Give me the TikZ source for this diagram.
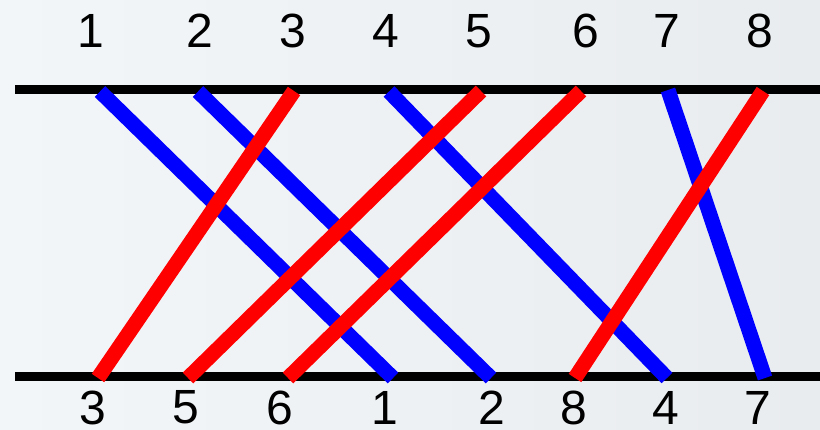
\documentclass[tikz,border=0pt]{standalone}
\usepackage{fontspec}
\setmainfont{Liberation Sans}
\definecolor{bgL}{RGB}{243,246,249}
\definecolor{bgR}{RGB}{233,236,239}
\definecolor{pblue}{RGB}{0,0,255}
\definecolor{pred}{RGB}{255,0,0}
\begin{document}
\begin{tikzpicture}[x=1pt,y=-1pt,
  num/.style={inner sep=0pt,font=\fontsize{48}{48}\selectfont},
  rail/.style={line width=9pt,black},
  bwire/.style={line width=15pt,pblue},
  rwire/.style={line width=15pt,pred}]
\shade[left color=bgL,right color=bgR] (0,0) rectangle (820,429);
\useasboundingbox (0,0) rectangle (820,429);
% rails
\coordinate (tl) at (15,89.5);
\coordinate (tr) at (820,89.5);
\coordinate (bl) at (15,376.5);
\coordinate (br) at (820,376.5);
\draw[rail] (tl) -- (tr);
\draw[rail] (bl) -- (br);
% top labels
\node[num] (u1) at (91,31) {1};
\node[num] (u2) at (200,31) {2};
\node[num] (u3) at (293,31) {3};
\node[num] (u4) at (386,31) {4};
\node[num] (u5) at (479,31) {5};
\node[num] (u6) at (586,31) {6};
\node[num] (u7) at (667,31) {7};
\node[num] (u8) at (760,31) {8};
% bottom labels
\node[num] (d3) at (93,407.5) {3};
\node[num] (d5) at (186,407.5) {5};
\node[num] (d6) at (280,407.5) {6};
\node[num] (d1) at (385,407.5) {1};
\node[num] (d2) at (492,407.5) {2};
\node[num] (d8) at (574,407.5) {8};
\node[num] (d4) at (666,407.5) {4};
\node[num] (d7) at (758,407.5) {7};
% wire ends
\coordinate (t1) at (100,91.5);
\coordinate (t2) at (198,91.5);
\coordinate (t3) at (294,91);
\coordinate (t4) at (389,91.5);
\coordinate (t5) at (481,91);
\coordinate (t6) at (581,91);
\coordinate (t7) at (668,90);
\coordinate (t8) at (763,91);
\coordinate (b1) at (393,378);
\coordinate (b2) at (491,378);
\coordinate (b3) at (98,378);
\coordinate (b4) at (667,378);
\coordinate (b5) at (188,378);
\coordinate (b6) at (288,378);
\coordinate (b7) at (765,378);
\coordinate (b8) at (575,378);
% blue wires
\draw[bwire] (t1) -- (b1);
\draw[bwire] (t2) -- (b2);
\draw[bwire] (t4) -- (b4);
\draw[bwire] (t7) -- (b7);
% red wires
\draw[rwire] (t3) -- (b3);
\draw[rwire] (t5) -- (b5);
\draw[rwire] (t6) -- (b6);
\draw[rwire] (t8) -- (b8);
\end{tikzpicture}
\end{document}
